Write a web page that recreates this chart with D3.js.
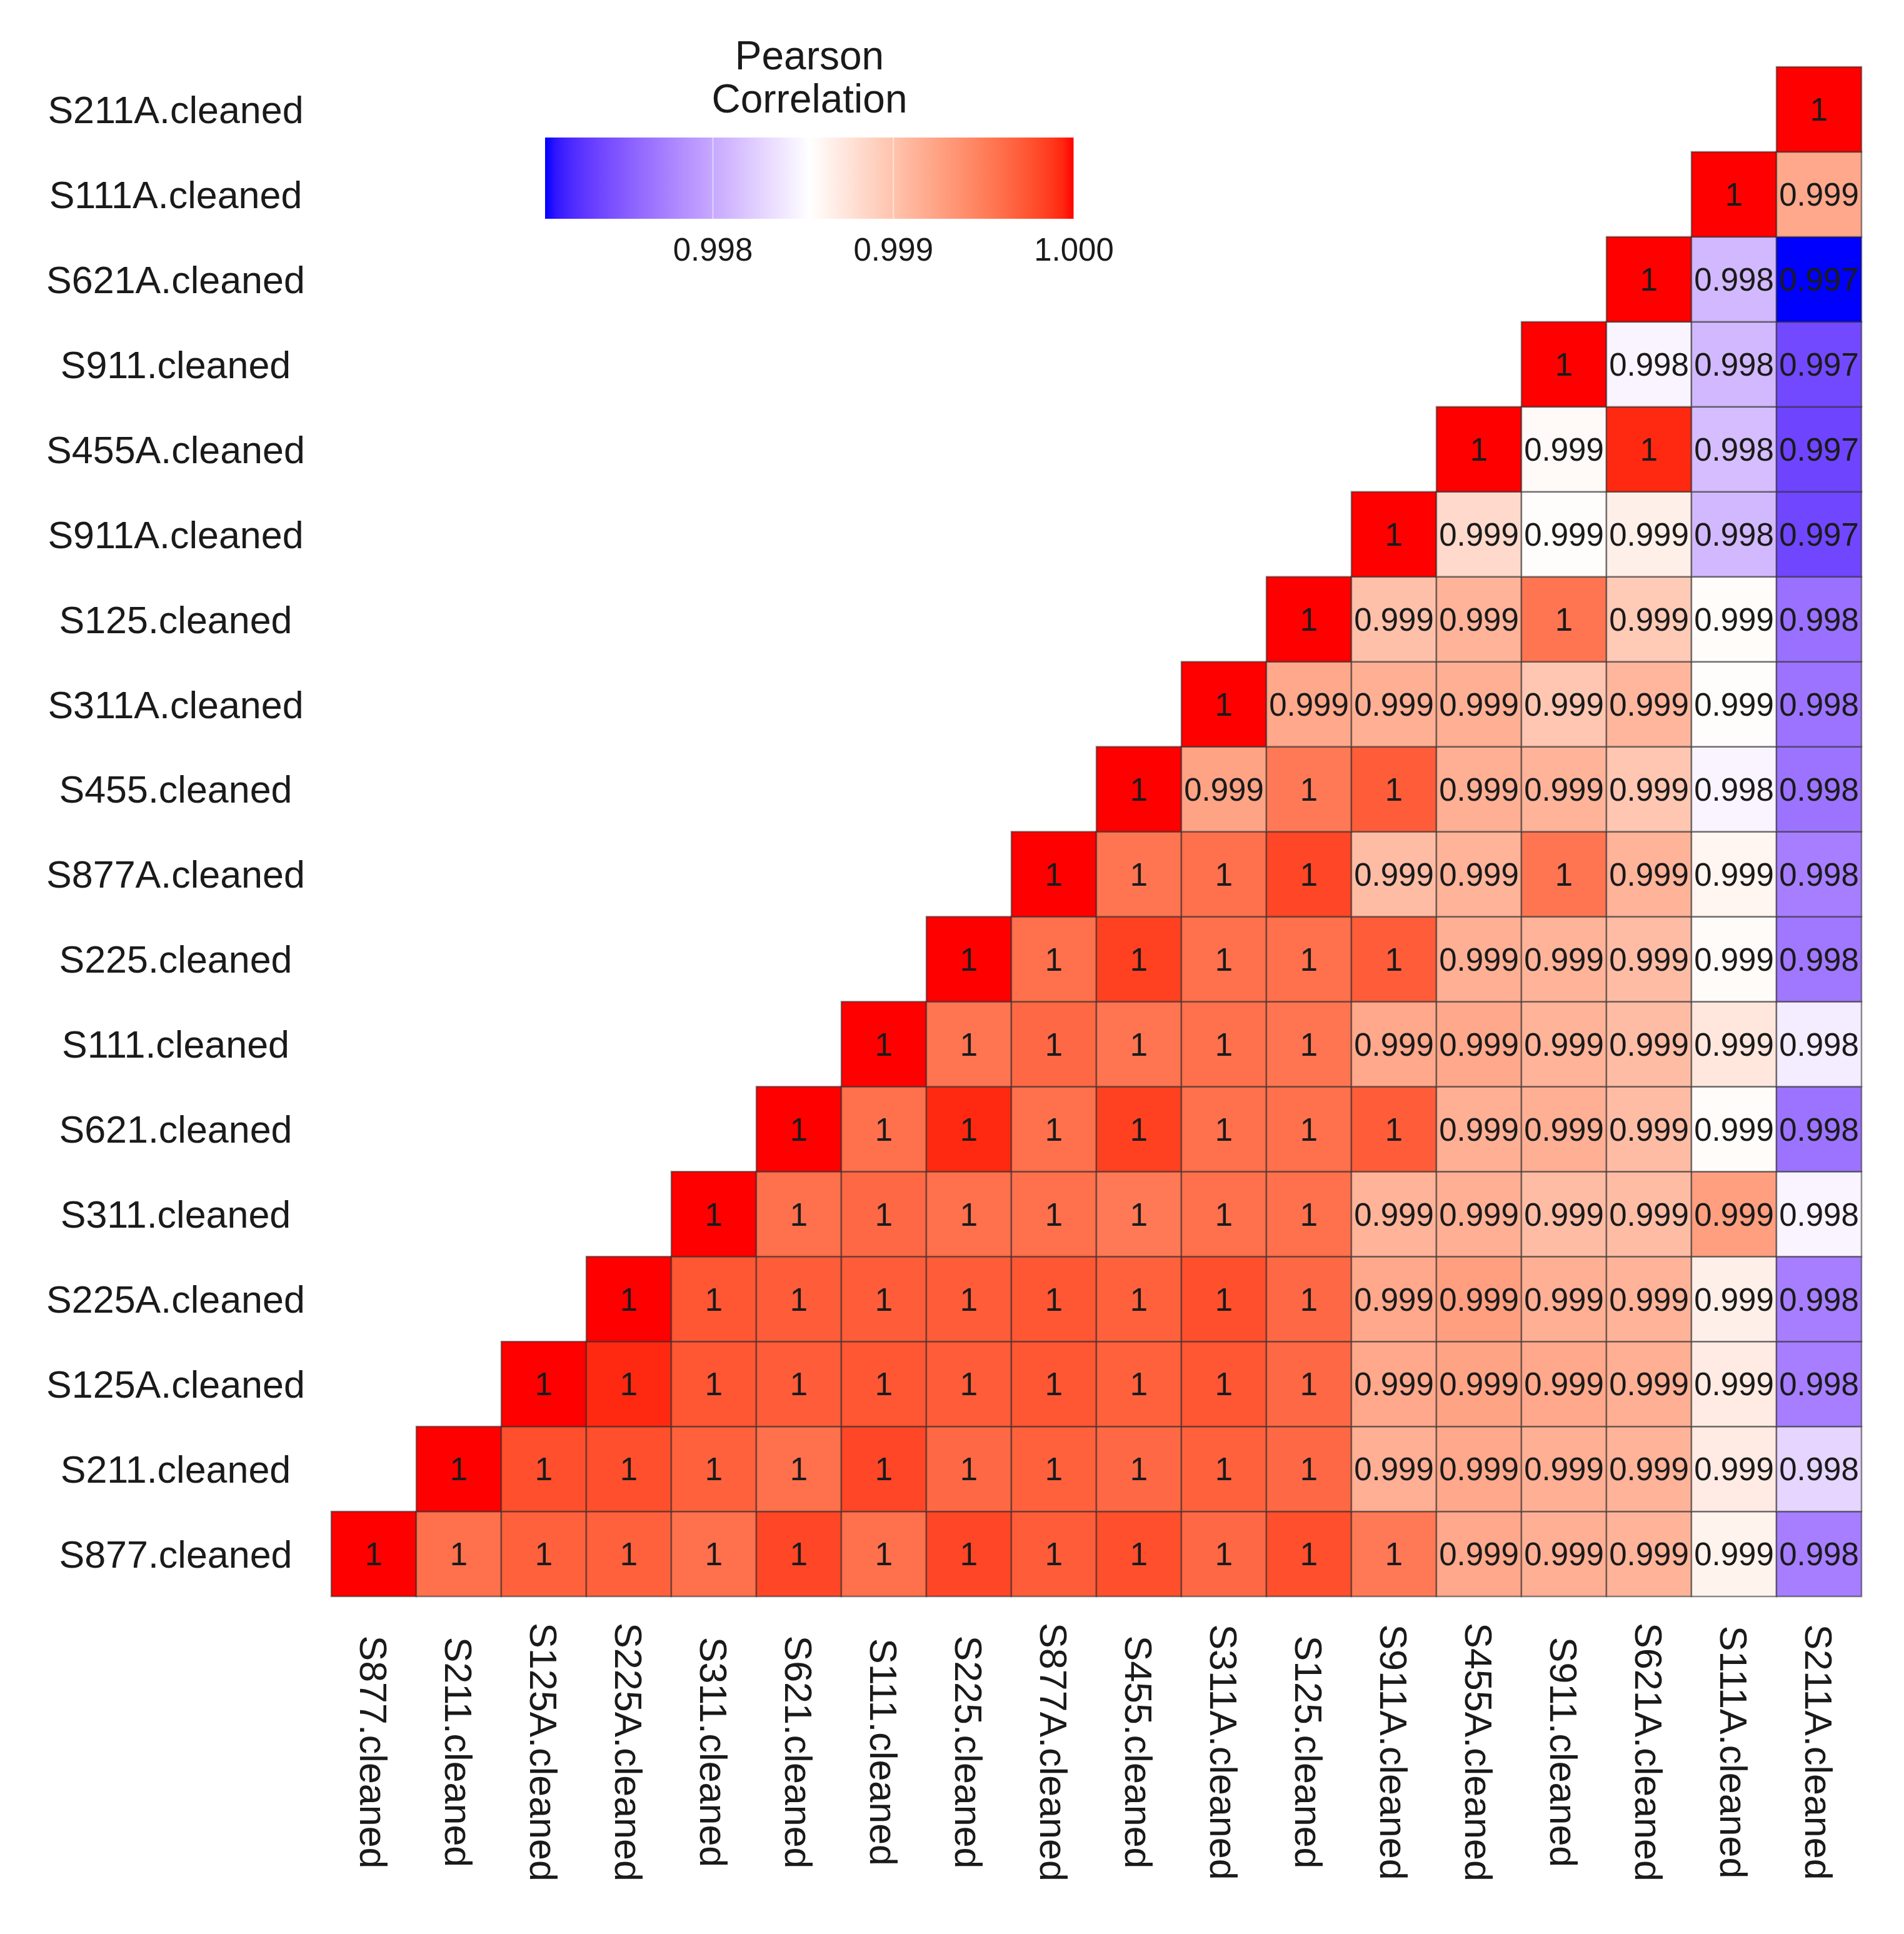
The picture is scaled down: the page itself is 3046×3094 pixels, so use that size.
<!DOCTYPE html>
<html>
<head>
<meta charset="utf-8">
<script src="https://cdn.jsdelivr.net/npm/d3@7"></script>
<style>
  body { margin: 0; background: #fff; }
  text { font-family: "Liberation Sans", Arial, sans-serif; fill: #1a1a1a; }
</style>
</head>
<body>
<svg id="chart"></svg>
<script>
// sample names, same order for rows (bottom -> top) and columns (left -> right)
const samples = [
  "S877.cleaned", "S211.cleaned", "S125A.cleaned", "S225A.cleaned",
  "S311.cleaned", "S621.cleaned", "S111.cleaned", "S225.cleaned",
  "S877A.cleaned", "S455.cleaned", "S311A.cleaned", "S125.cleaned",
  "S911A.cleaned", "S455A.cleaned", "S911.cleaned", "S621A.cleaned",
  "S111A.cleaned", "S211A.cleaned"
];

// upper triangle, row i holds the correlations with samples i..17
const corrRows = [
  [1, 0.99959, 0.99968, 0.99968, 0.99959, 0.99982, 0.99959, 0.99982, 0.99971, 0.99978, 0.99964, 0.99978, 0.99953, 0.9992, 0.99915, 0.99912, 0.99863, 0.99773],
  [1, 0.99978, 0.99978, 0.99968, 0.99959, 0.99982, 0.99964, 0.99968, 0.99964, 0.99968, 0.99964, 0.99915, 0.9992, 0.99915, 0.99912, 0.99869, 0.99828],
  [1, 0.99993, 0.99974, 0.99971, 0.99974, 0.99971, 0.99974, 0.99968, 0.99974, 0.99964, 0.9992, 0.99924, 0.9992, 0.99915, 0.99869, 0.99773],
  [1, 0.99974, 0.99971, 0.99971, 0.99971, 0.99974, 0.99968, 0.99978, 0.99964, 0.9992, 0.99927, 0.99915, 0.99912, 0.99866, 0.99773],
  [1, 0.99959, 0.99964, 0.99959, 0.99959, 0.99953, 0.99959, 0.99959, 0.99912, 0.99915, 0.99905, 0.99905, 0.99927, 0.99847],
  [1, 0.99959, 0.99993, 0.99959, 0.99985, 0.99959, 0.99959, 0.99971, 0.99915, 0.99915, 0.99905, 0.99856, 0.99766],
  [1, 0.99956, 0.99964, 0.99956, 0.99959, 0.99956, 0.9992, 0.9992, 0.99912, 0.99905, 0.99872, 0.99842],
  [1, 0.99959, 0.99985, 0.99959, 0.99959, 0.99971, 0.99915, 0.99912, 0.99905, 0.99857, 0.99769],
  [1, 0.99956, 0.99959, 0.99982, 0.99905, 0.99912, 0.99956, 0.99912, 0.99861, 0.99773],
  [1, 0.99924, 0.99953, 0.99971, 0.99915, 0.99912, 0.99898, 0.99847, 0.99766],
  [1, 0.9992, 0.99915, 0.99915, 0.99898, 0.9991, 0.99855, 0.99766],
  [1, 0.99902, 0.99912, 0.99956, 0.99895, 0.99856, 0.99764],
  [1, 0.99883, 0.99855, 0.99866, 0.9981, 0.99738],
  [1, 0.99858, 0.99993, 0.99813, 0.99737],
  [1, 0.99847, 0.9981, 0.9974],
  [1, 0.9981, 0.99707],
  [1, 0.9992],
  [1]
];

const legendTitle = ["Pearson", "Correlation"];
const legendTicks = [0.998, 0.999, 1.0];

const WIDTH = 3046;
const HEIGHT = 3094;

/**
 * Turns the triangle rows into a flat list of cells.
 * @returns A list of {row, col, value} objects.
 */
function buildCells() {
  let cells = [];
  corrRows.forEach((vals, i) => {
    vals.forEach((v, k) => {
      cells.push({ row: samples[i], col: samples[i + k], value: v });
    });
  });
  return cells;
}

/**
 * Draws the tiles, their labels and both axes.
 */
function drawHeatmap(svg, cells, x, y, color) {
  const g = svg.append("g").attr("class", "tiles");

  g.selectAll("rect")
    .data(cells)
    .enter()
    .append("rect")
    .attr("x", (d) => x(d.col))
    .attr("y", (d) => y(d.row))
    .attr("width", x.bandwidth())
    .attr("height", y.bandwidth())
    .attr("fill", (d) => color(d.value))
    .attr("stroke", "#2b2b2b")
    .attr("stroke-opacity", 0.55)
    .attr("stroke-width", 2.5);

  g.selectAll("text")
    .data(cells)
    .enter()
    .append("text")
    .attr("x", (d) => x(d.col) + x.bandwidth() / 2)
    .attr("y", (d) => y(d.row) + y.bandwidth() / 2)
    .attr("dy", "0.36em")
    .attr("text-anchor", "middle")
    .attr("font-size", 51)
    .text((d) => String(+d.value.toFixed(3)));

  // row labels, centred in the left margin
  svg.append("g")
    .attr("class", "rowLabels")
    .selectAll("text")
    .data(samples)
    .enter()
    .append("text")
    .attr("x", 281)
    .attr("y", (d) => y(d) + y.bandwidth() / 2)
    .attr("dy", "0.36em")
    .attr("text-anchor", "middle")
    .attr("font-size", 61)
    .text((d) => d);

  // column labels, read top to bottom
  svg.append("g")
    .attr("class", "colLabels")
    .selectAll("text")
    .data(samples)
    .enter()
    .append("text")
    .attr("transform", (d) => `translate(${x(d) + x.bandwidth() / 2},2803) rotate(90)`)
    .attr("dy", "0.36em")
    .attr("text-anchor", "middle")
    .attr("font-size", 61)
    .text((d) => d);
}

/**
 * Draws the horizontal colour bar with its title and ticks.
 */
function drawLegend(svg, color, vMin, vMax) {
  const BAR_TOP = 220;
  const BAR_H = 130;
  const lx = d3.scaleLinear().domain([vMin, vMax]).range([872, 1718]);

  const grad = svg.append("defs")
    .append("linearGradient")
    .attr("id", "corrGrad")
    .attr("x1", "0%").attr("x2", "100%")
    .attr("y1", "0%").attr("y2", "0%");
  d3.range(0, 1.0001, 0.02).forEach((t) => {
    grad.append("stop")
      .attr("offset", t * 100 + "%")
      .attr("stop-color", color(vMin + t * (vMax - vMin)));
  });

  const g = svg.append("g").attr("class", "legend");

  g.selectAll("text.title")
    .data(legendTitle)
    .enter()
    .append("text")
    .attr("class", "title")
    .attr("x", (lx.range()[0] + lx.range()[1]) / 2)
    .attr("y", (d, i) => 111 + i * 69)
    .attr("text-anchor", "middle")
    .attr("font-size", 64)
    .text((d) => d);

  g.append("rect")
    .attr("x", lx(vMin))
    .attr("y", BAR_TOP)
    .attr("width", lx(vMax) - lx(vMin))
    .attr("height", BAR_H)
    .attr("fill", "url(#corrGrad)");

  g.selectAll("line")
    .data(legendTicks)
    .enter()
    .append("line")
    .attr("x1", (d) => lx(d))
    .attr("x2", (d) => lx(d))
    .attr("y1", BAR_TOP)
    .attr("y2", BAR_TOP + BAR_H)
    .attr("stroke", "#fff")
    .attr("stroke-opacity", 0.5)
    .attr("stroke-width", 2);

  g.selectAll("text.tick")
    .data(legendTicks)
    .enter()
    .append("text")
    .attr("class", "tick")
    .attr("x", (d) => lx(d))
    .attr("y", 417)
    .attr("text-anchor", "middle")
    .attr("font-size", 51)
    .attr("fill", "#333")
    .text((d) => d3.format(".3f")(d));
}

function createChart() {
  const svg = d3.select("#chart")
    .attr("width", WIDTH)
    .attr("height", HEIGHT);

  svg.append("rect")
    .attr("width", WIDTH)
    .attr("height", HEIGHT)
    .attr("fill", "#fff");

  const cells = buildCells();
  const vMin = d3.min(cells, (d) => d.value);
  const vMax = d3.max(cells, (d) => d.value);

  const x = d3.scaleBand().domain(samples).range([530, 2978]);
  const y = d3.scaleBand().domain(samples).range([2554, 107]);

  const color = d3.scaleLinear()
    .domain([vMin, (vMin + vMax) / 2, vMax])
    .range(["blue", "white", "red"])
    .interpolate(d3.interpolateLab);

  drawLegend(svg, color, vMin, vMax);
  drawHeatmap(svg, cells, x, y, color);
}

createChart();
</script>
</body>
</html>
